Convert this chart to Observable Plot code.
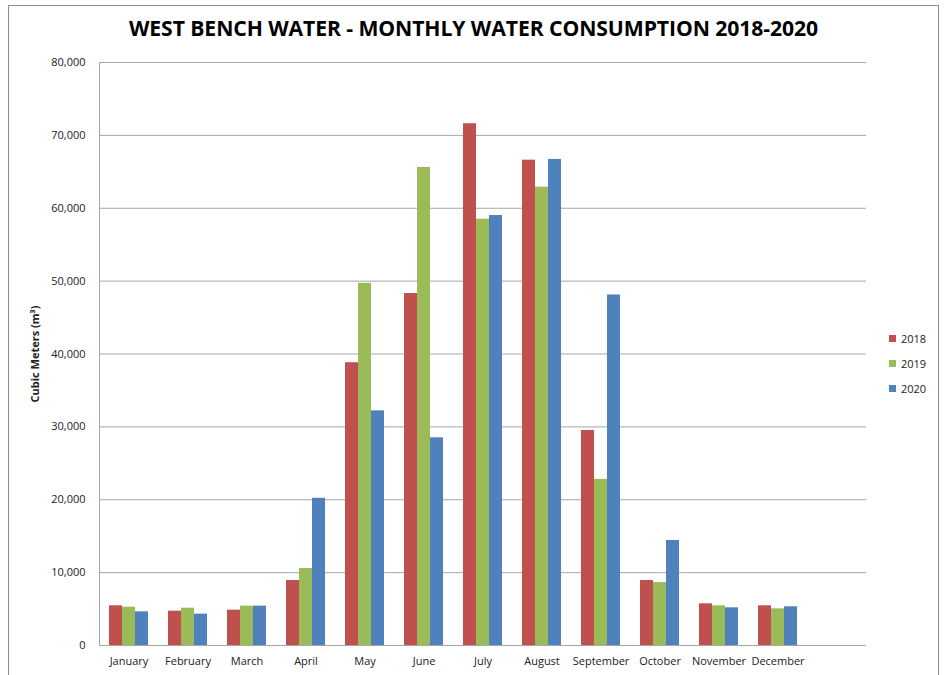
<!DOCTYPE html>
<html>
<head>
<meta charset="utf-8">
<script src="https://cdn.jsdelivr.net/npm/d3@7"></script>
<script src="https://cdn.jsdelivr.net/npm/@observablehq/plot@0.6"></script>
<style>
  html, body { margin: 0; padding: 0; background: #fff; }
  body { width: 947px; height: 675px; position: relative; overflow: hidden; font-family: "Open Sans", sans-serif; }
  #border { position: absolute; left: 8px; top: 5px; width: 931px; height: 720px; border: 1px solid #8c8c8c; box-sizing: border-box; pointer-events: none; }
  #title { position: absolute; left: 0; top: 13px; width: 947px; text-align: center; font-family: "Open Sans", sans-serif; font-weight: 700; font-size: 21.2px; color: #000; letter-spacing: -0.1px; }
  #chart { position: absolute; left: 0; top: 50px; }
  #legend { position: absolute; left: 889px; top: 330px; font-family: "Open Sans", sans-serif; font-size: 11px; color: #222; }
  #legend .item { display: flex; align-items: center; height: 16px; margin-bottom: 9px; }
  #legend .sw { width: 7px; height: 7px; margin-right: 5px; }
  svg g[aria-label="y-axis label"] text { font-weight: 700; }
</style>
</head>
<body>
<div id="border"></div>
<div id="title">WEST BENCH WATER - MONTHLY WATER CONSUMPTION 2018-2020</div>
<div id="chart"></div>
<div id="legend"></div>
<script>
const months = ["January","February","March","April","May","June","July","August","September","October","November","December"];
const years = ["2018","2019","2020"];
const colors = ["#C0504D","#9BBB59","#4F81BD"];
const v2018 = [5450, 4710, 4850, 8920, 38800, 48300, 71600, 66600, 29500, 8920, 5720, 5450];
const v2019 = [5260, 5120, 5400, 10570, 49700, 65600, 58500, 62900, 22800, 8640, 5450, 5030];
const v2020 = [4620, 4300, 5400, 20200, 32200, 28500, 59000, 66700, 48100, 14400, 5170, 5310];
const yTicks = [0, 10000, 20000, 30000, 40000, 50000, 60000, 70000, 80000];
const yLabel = "Cubic Meters (m³)";

const series = {"2018": v2018, "2019": v2019, "2020": v2020};
const data = months.flatMap((m, i) => years.map(y => ({month: m, year: y, value: series[y][i]})));
// an empty 13th slot follows December, as in the original chart
const fxDomain = [...months, " "];
const gridData = fxDomain.flatMap(f => yTicks.map(t => ({fx: f, y: t})));

const chart = Plot.plot({
  width: 947,
  height: 625,
  marginLeft: 97,
  marginRight: 80,
  marginTop: 12,
  marginBottom: 30,
  style: {fontFamily: "'Open Sans', sans-serif", fontSize: "11px", color: "#222", background: "transparent"},
  fx: {domain: fxDomain, padding: 0},
  x: {domain: years, paddingInner: 0, paddingOuter: 0.739, axis: null},
  y: {domain: [0, 80000]},
  color: {domain: years, range: colors},
  marks: [
    Plot.ruleY(gridData, {fx: "fx", y: "y", stroke: "#a6a6a6", strokeWidth: 1}),
    Plot.barY(data, {fx: "month", x: "year", y: "value", fill: "year", inset: 0}),
    Plot.frame({anchor: "left", facetAnchor: "left", stroke: "#a6a6a6"}),
    Plot.axisY(yTicks, {tickSize: 0, tickPadding: 14, tickFormat: d3.format(","), label: yLabel, labelAnchor: "center", labelArrow: "none", labelOffset: 68, fill: "#222"}),
    Plot.axisFx({anchor: "bottom", tickSize: 0, tickPadding: 12, label: null, fill: "#222"})
  ]
});
document.getElementById("chart").appendChild(chart);

const legend = document.getElementById("legend");
years.forEach((y, i) => {
  const item = document.createElement("div");
  item.className = "item";
  item.innerHTML = `<span class="sw" style="background:${colors[i]}"></span><span>${y}</span>`;
  legend.appendChild(item);
});
</script>
</body>
</html>
